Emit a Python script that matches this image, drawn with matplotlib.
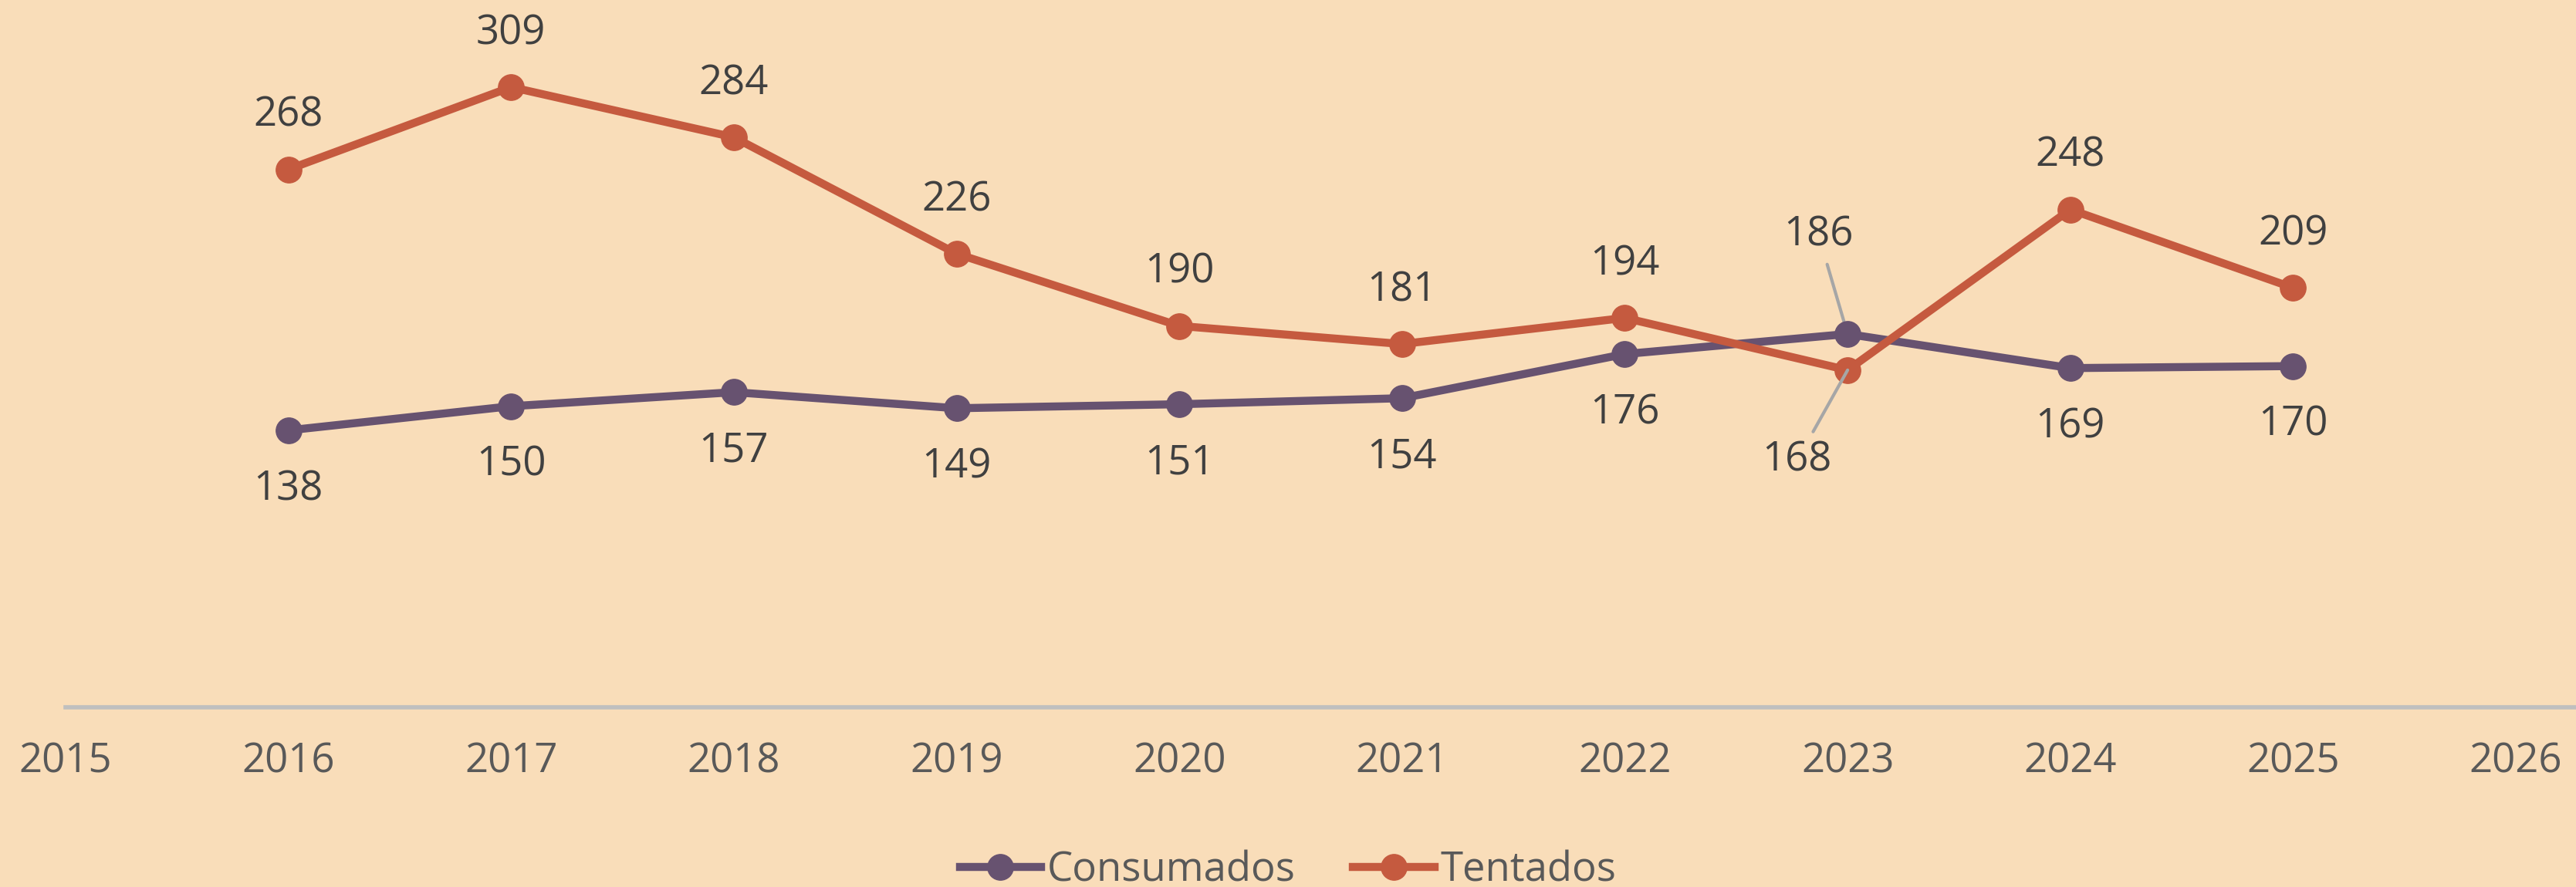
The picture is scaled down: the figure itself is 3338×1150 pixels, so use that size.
import matplotlib
matplotlib.use("Agg")
import matplotlib.pyplot as plt

years = [2016, 2017, 2018, 2019, 2020, 2021, 2022, 2023, 2024, 2025]
consumados = [138, 150, 157, 149, 151, 154, 176, 186, 169, 170]
tentados = [268, 309, 284, 226, 190, 181, 194, 168, 248, 209]
tick_years = list(range(2015, 2027))

BG = "#F9DDB9"
C_CONS = "#675270"
C_TENT = "#C55A3F"
TXT = "#404040"
TICK = "#595959"

plt.rcParams['font.family'] = ['Open Sans', 'DejaVu Sans']

fig = plt.figure(figsize=(33.38, 11.5), dpi=100, facecolor=BG)
ax = fig.add_axes([85/3338, 1 - 917/1150, 1 - 85/3338, 917/1150])
ax.set_facecolor(BG)

ax.plot(years, consumados, color=C_CONS, lw=7.5, marker='o', ms=24, label='Consumados', zorder=3)
ax.plot(years, tentados, color=C_TENT, lw=7.5, marker='o', ms=24, label='Tentados', zorder=3)

ax.set_xlim(2015, 2026.27)
ax.set_ylim(0, 352.4)

fs = 38
for x, v in zip(years, consumados):
    if x == 2023:
        ax.annotate(str(v), (x, v), xytext=(-27, 92), textcoords='offset points',
                    ha='center', va='center', fontsize=fs, color=TXT,
                    arrowprops=dict(arrowstyle='-', color='#A6A6A6', lw=3,
                                    shrinkA=6, shrinkB=0), zorder=2)
    else:
        ax.annotate(str(v), (x, v), xytext=(0, -55), textcoords='offset points',
                    ha='center', va='center', fontsize=fs, color=TXT)
for x, v in zip(years, tentados):
    if x == 2023:
        ax.annotate(str(v), (x, v), xytext=(-47, -84), textcoords='offset points',
                    ha='center', va='center', fontsize=fs, color=TXT,
                    arrowprops=dict(arrowstyle='-', color='#A6A6A6', lw=3,
                                    shrinkA=6, shrinkB=0), zorder=4)
    else:
        ax.annotate(str(v), (x, v), xytext=(0, 50), textcoords='offset points',
                    ha='center', va='center', fontsize=fs, color=TXT)

for s in ['top', 'right', 'left']:
    ax.spines[s].set_visible(False)
ax.spines['bottom'].set_color('#BFBFBF')
ax.spines['bottom'].set_linewidth(4)
ax.set_xticks(tick_years)
ax.set_xticklabels([str(y) for y in tick_years])
ax.set_yticks([])
ax.tick_params(axis='x', length=0, pad=32, labelsize=fs, labelcolor=TICK)

leg = fig.legend(loc='lower center', bbox_to_anchor=(0.5, -0.046), ncol=2, frameon=False,
                 fontsize=fs, labelcolor=TICK, handlelength=2.0, handletextpad=0.15,
                 columnspacing=1.4, markerscale=1.0)

fig.savefig('out.png', dpi=100, facecolor=BG)
